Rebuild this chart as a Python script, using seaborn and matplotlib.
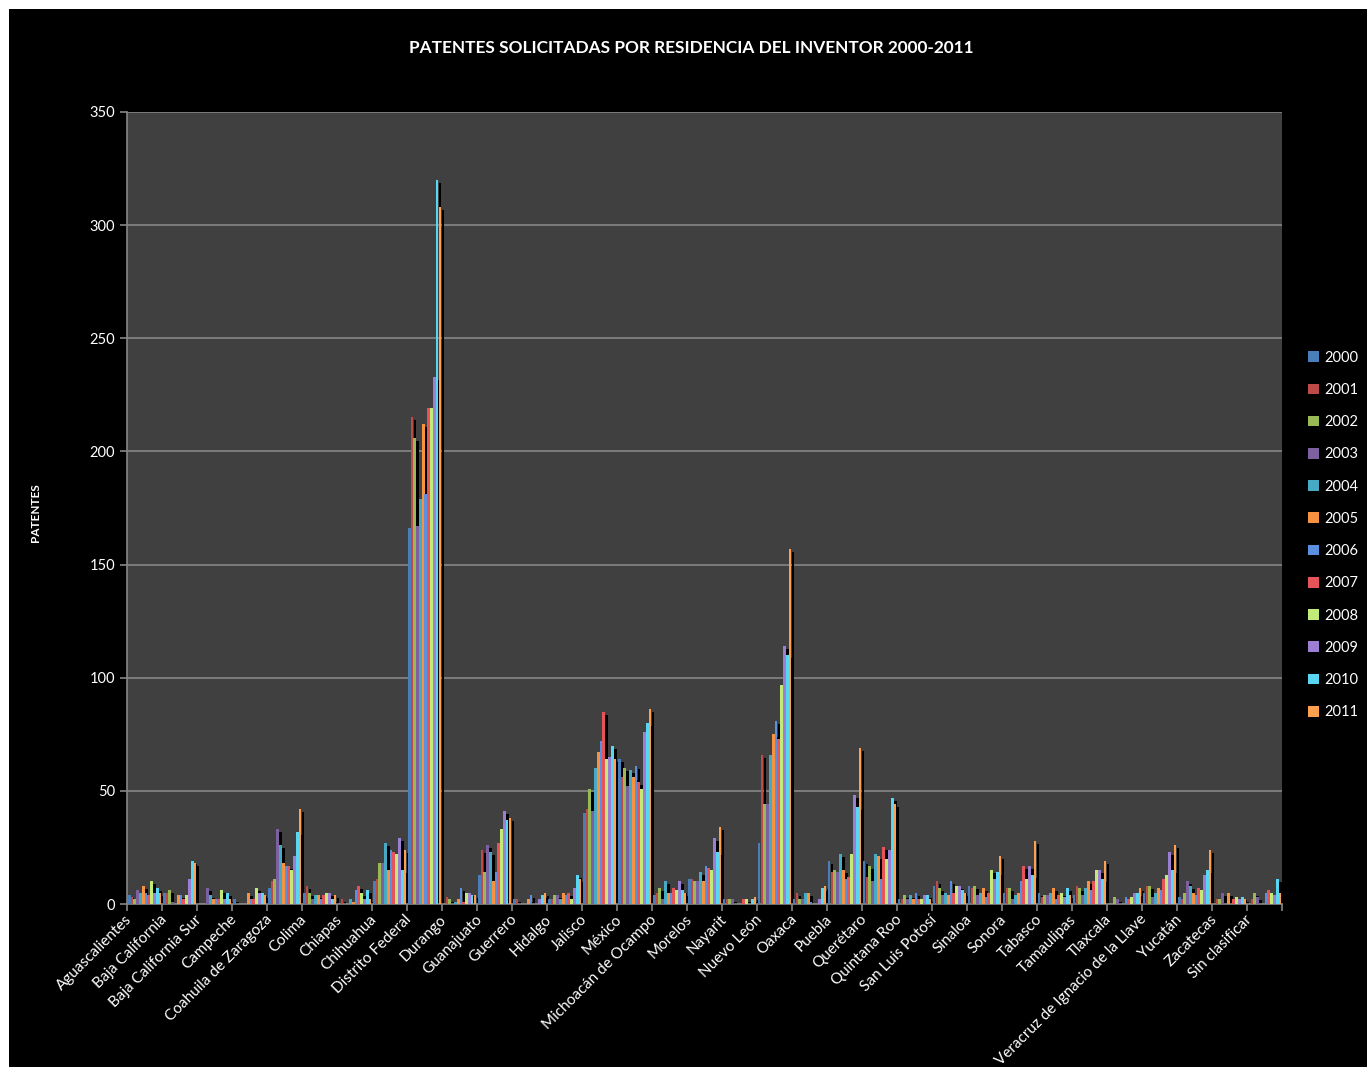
import matplotlib
matplotlib.use('Agg')
import pandas as pd
import matplotlib.pyplot as plt
import matplotlib.transforms as mtransforms
from matplotlib.patches import Rectangle, Patch
import seaborn as sns

# categorias (estados) y años
estados = ['Aguascalientes', 'Baja California', 'Baja California Sur', 'Campeche',
           'Coahuila de Zaragoza', 'Colima', 'Chiapas', 'Chihuahua', 'Distrito Federal',
           'Durango', 'Guanajuato', 'Guerrero', 'Hidalgo', 'Jalisco', 'México',
           'Michoacán de Ocampo', 'Morelos', 'Nayarit', 'Nuevo León', 'Oaxaca', 'Puebla',
           'Querétaro', 'Quintana Roo', 'San Luis Potosí', 'Sinaloa', 'Sonora', 'Tabasco',
           'Tamaulipas', 'Tlaxcala', 'Veracruz de Ignacio de la Llave', 'Yucatán',
           'Zacatecas', 'Sin clasificar']
anios = ['2000', '2001', '2002', '2003', '2004', '2005',
         '2006', '2007', '2008', '2009', '2010', '2011']

# patentes por año (un valor por estado)
p2000 = [4, 5, 0, 2, 7, 5, 0, 10, 166, 0, 13, 2, 2, 40, 64, 4, 11, 2, 27, 2, 19, 19, 2, 8, 8, 5, 5, 4, 0, 5, 3, 0, 0]
p2001 = [3, 5, 0, 0, 10, 8, 2, 11, 215, 3, 24, 2, 2, 42, 56, 5, 11, 2, 66, 5, 14, 12, 2, 10, 7, 7, 3, 8, 0, 8, 2, 2, 2]
p2002 = [2, 6, 0, 0, 11, 5, 0, 18, 206, 2, 14, 0, 4, 51, 60, 7, 10, 2, 44, 2, 15, 17, 4, 7, 8, 7, 4, 7, 3, 8, 5, 2, 5]
p2003 = [6, 1, 7, 0, 33, 2, 0, 18, 167, 0, 26, 0, 4, 41, 52, 2, 10, 2, 44, 2, 14, 10, 2, 4, 4, 2, 4, 4, 2, 3, 10, 5, 3]
p2004 = [5, 0, 4, 0, 26, 4, 2, 27, 179, 1, 23, 0, 2, 60, 59, 10, 14, 0, 66, 5, 22, 22, 4, 5, 5, 4, 5, 7, 0, 5, 8, 0, 0]
p2005 = [8, 4, 2, 5, 18, 4, 1, 15, 212, 2, 10, 2, 5, 67, 56, 5, 10, 0, 75, 5, 15, 21, 2, 4, 7, 5, 7, 10, 0, 7, 5, 5, 0]
p2006 = [5, 4, 2, 2, 17, 2, 6, 24, 181, 7, 14, 4, 4, 72, 61, 5, 17, 0, 81, 1, 11, 11, 5, 10, 3, 10, 2, 6, 3, 6, 4, 0, 5]
p2007 = [4, 2, 2, 2, 17, 4, 8, 23, 219, 1, 27, 0, 5, 85, 54, 7, 16, 2, 73, 0, 12, 25, 2, 5, 5, 17, 4, 10, 2, 11, 7, 2, 6]
p2008 = [10, 4, 6, 7, 15, 5, 5, 22, 219, 5, 33, 0, 2, 64, 51, 6, 15, 2, 97, 0, 22, 20, 2, 8, 15, 11, 5, 15, 3, 13, 6, 3, 5]
p2009 = [5, 11, 2, 5, 21, 5, 2, 29, 233, 5, 41, 2, 7, 65, 76, 10, 29, 0, 114, 2, 48, 24, 4, 8, 11, 17, 3, 15, 5, 23, 13, 2, 4]
p2010 = [7, 19, 5, 5, 32, 2, 6, 15, 320, 4, 37, 4, 13, 70, 80, 6, 23, 2, 110, 7, 43, 47, 4, 6, 14, 13, 7, 11, 5, 15, 15, 3, 11]
p2011 = [5, 18, 2, 4, 42, 4, 2, 24, 308, 4, 38, 5, 11, 64, 86, 5, 34, 3, 157, 8, 69, 44, 2, 5, 21, 28, 4, 19, 7, 26, 24, 2, 5]

colores = ['#4a7ebb', '#be4b48', '#98b954', '#7d60a0', '#46aac5', '#f69240',
           '#5b8fe0', '#e6545a', '#c2ea78', '#9c7ed2', '#58d6f3', '#ffa04e']

series = [p2000, p2001, p2002, p2003, p2004, p2005, p2006, p2007, p2008, p2009, p2010, p2011]

# armar el dataframe largo para seaborn
filas = []
for anio, vals in zip(anios, series):
    for est, v in zip(estados, vals):
        filas.append({'estado': est, 'anio': anio, 'patentes': v})
df = pd.DataFrame(filas)

plt.rcParams['font.family'] = ['Lato', 'DejaVu Sans']

W, H = 1367, 1067
fig = plt.figure(figsize=(W / 100, H / 100), dpi=100, facecolor='white')
# fondo negro del grafico (deja un margen blanco arriba e izquierda)
fig.patches.append(Rectangle((9 / W, 0), 1, 1 - 9 / H, transform=fig.transFigure,
                             facecolor='black', edgecolor='none', zorder=-10))

ax = fig.add_axes([127 / W, 1 - 904 / H, (1282 - 127) / W, (904 - 112) / H])
ax.set_facecolor('#404040')

sns.barplot(data=df, x='estado', y='patentes', hue='anio', palette=colores,
            width=0.96, gap=0, errorbar=None, saturation=1, linewidth=0,
            ax=ax, zorder=3)

# sombra negra de cada barra (desplazada a la derecha y abajo)
sombra = mtransforms.offset_copy(ax.transData, fig=fig, x=3, y=-3, units='dots')
for p in list(ax.patches):
    if p.get_height() > 0:
        ax.add_patch(Rectangle((p.get_x(), 0), p.get_width(), p.get_height(),
                               transform=sombra, facecolor='black', edgecolor='none', zorder=2))

ax.legend_.remove()

ax.set_ylim(0, 350)
ax.set_xlim(-0.5, len(estados) - 0.5)
ax.set_yticks(range(0, 351, 50))
ax.yaxis.grid(True, color='#868686', linewidth=1.2, zorder=1)
ax.xaxis.grid(False)
ax.set_axisbelow(True)
ax.set_xlabel('')
ax.set_ylabel('')

for s in ['top', 'right']:
    ax.spines[s].set_visible(False)
for s in ['left', 'bottom']:
    ax.spines[s].set_color('#868686')
    ax.spines[s].set_linewidth(1.2)

ax.tick_params(axis='y', colors='#868686', labelcolor='white', labelsize=10.5, length=5, width=1.2)
ax.tick_params(axis='x', which='major', length=0, labelcolor='white', labelsize=11, pad=6)
ax.set_xticks([i - 0.5 for i in range(len(estados) + 1)], minor=True)
ax.tick_params(axis='x', which='minor', colors='#868686', length=5, width=1.2)

ax.set_xticks(range(len(estados)))
ax.set_xticklabels(estados, rotation=45, ha='right')
desplaza = mtransforms.ScaledTranslation(-10 / 100, 0, fig.dpi_scale_trans)
for lbl in ax.get_xticklabels():
    lbl.set_transform(lbl.get_transform() + desplaza)

fig.text(691 / W, 1 - 48 / H, 'PATENTES SOLICITADAS POR RESIDENCIA DEL INVENTOR 2000-2011',
         color='white', fontsize=12.4, fontweight='bold', ha='center', va='center')
fig.text(35 / W, 1 - 513 / H, 'PATENTES', color='white', fontsize=8.5, fontweight='bold',
         rotation=90, ha='center', va='center')

handles = [Patch(facecolor=c, edgecolor='none') for c in colores]
fig.legend(handles, anios, loc='center left', bbox_to_anchor=(1302 / W, 1 - 535 / H),
           frameon=False, labelcolor='white', fontsize=10.5, handlelength=0.75,
           handleheight=0.75, handletextpad=0.4, labelspacing=1.25, borderaxespad=0)

fig.savefig('out.png', dpi=100, facecolor=fig.get_facecolor())
